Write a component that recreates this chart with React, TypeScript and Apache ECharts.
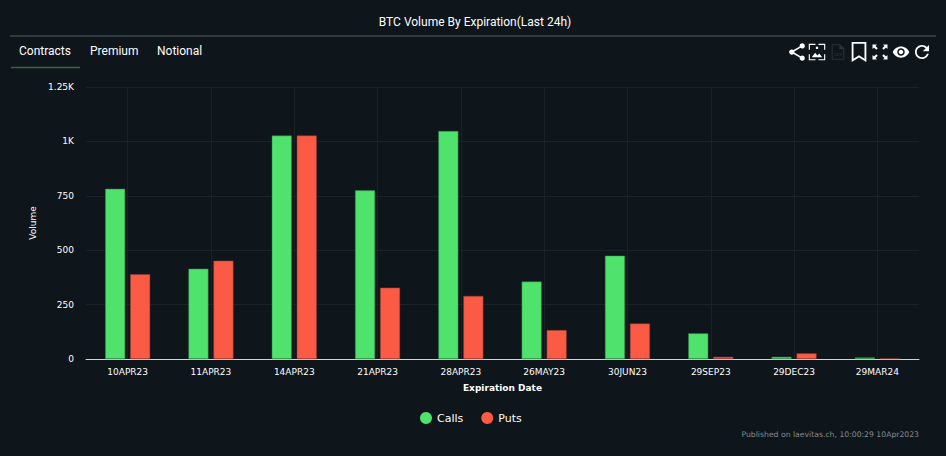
import React, { useEffect, useRef } from "react";
import * as echarts from "echarts";

const categories = ["10APR23", "11APR23", "14APR23", "21APR23", "28APR23", "26MAY23", "30JUN23", "29SEP23", "29DEC23", "29MAR24"];
const calls = [782, 415, 1027, 775, 1048, 356, 475, 118, 10, 7];
const puts = [390, 452, 1027, 328, 290, 133, 163, 10, 26, 3];
const tabs = ["Contracts", "Premium", "Notional"];

const ICONS: Record<string, string> = {
  shareIcon: "M18 16.08c-.76 0-1.44.3-1.96.77L8.91 12.7c.05-.23.09-.46.09-.7s-.04-.47-.09-.7l7.05-4.11c.54.5 1.25.81 2.04.81 1.66 0 3-1.34 3-3s-1.34-3-3-3-3 1.34-3 3c0 .24.04.47.09.7L8.04 9.81C7.5 9.31 6.79 9 6 9c-1.66 0-3 1.34-3 3s1.34 3 3 3c.79 0 1.5-.31 2.04-.81l7.12 4.16c-.05.21-.08.43-.08.65 0 1.61 1.31 2.92 2.92 2.92s2.92-1.31 2.92-2.92-1.31-2.92-2.92-2.92z",
  eyeIcon: "M12 4.5C7 4.5 2.73 7.61 1 12c1.73 4.39 6 7.5 11 7.5s9.27-3.11 11-7.5c-1.73-4.39-6-7.5-11-7.5zM12 17c-2.76 0-5-2.24-5-5s2.24-5 5-5 5 2.24 5 5-2.24 5-5 5zm0-8c-1.66 0-3 1.34-3 3s1.34 3 3 3 3-1.34 3-3-1.34-3-3-3z",
  refreshIcon: "M17.65 6.35C16.2 4.9 14.21 4 12 4c-4.42 0-7.99 3.58-7.99 8s3.57 8 7.99 8c3.73 0 6.84-2.55 7.73-6h-2.08c-.82 2.33-3.04 4-5.65 4-3.31 0-6-2.69-6-6s2.69-6 6-6c1.66 0 3.14.69 4.22 1.78L13 11h7V4l-2.35 2.35z",
  bookmarkIcon: "M4 1H20V23L12 18L4 23ZM6 3V19.4L12 15.6L18 19.4V3Z",
  fullIcon: "M2 2H8L6 4L9 7L7 9L4 6L2 8ZM22 2V8L20 6L17 9L15 7L18 4L16 2ZM2 22V16L4 18L7 15L9 17L6 20L8 22ZM22 22H16L18 20L15 17L17 15L20 18L22 16Z",
  imageIcon: "M1 1H10V2.5H2.5V9H1ZM14 1H23V9H21.5V2.5H14ZM1 15H2.5V21.5H10V23H1ZM21.5 15H23V23H14V21.5H21.5ZM5 19L9.5 13L12.5 16.5L15 14L19 19ZM10.5 5H13.5V8H10.5Z",
  fileIcon: "M3 1H15L21 7V23H3ZM4.5 2.5V21.5H19.5V8H14V2.5Z",
};
Object.keys(ICONS).forEach((k) => {
  echarts.graphic.registerShape(k, echarts.graphic.extendPath(ICONS[k] as any, {}) as any);
});

const icon = (type: string, cx: number, cy: number, size: number, fill = "#ffffff") => ({
  type,
  x: cx - size / 2,
  y: cy - size / 2,
  scaleX: size / 24,
  scaleY: size / 24,
  style: { fill },
  silent: true,
});

const FONT = "Roboto";
const AXIS_FONT = "DejaVu Sans";

export default function App() {
  const ref = useRef<HTMLDivElement>(null);
  useEffect(() => {
    document.body.style.margin = "0";
    document.body.style.background = "#0e151b";
    const chart = echarts.init(ref.current!, null, { renderer: "svg" });
    const tabX = [19, 90, 157];
    chart.setOption({
      animation: false,
      backgroundColor: "#0e151b",
      textStyle: { fontFamily: FONT },
      title: {
        text: "BTC Volume By Expiration(Last 24h)",
        left: 470,
        top: 11,
        textAlign: "center",
        textStyle: { color: "#ffffff", fontSize: 12, fontWeight: 400, fontFamily: FONT },
      },
      grid: { left: 86, right: 27, top: 87, bottom: 97 },
      legend: {
        data: ["Calls", "Puts"],
        top: 407,
        left: 415,
        icon: "circle",
        itemWidth: 12,
        itemHeight: 12,
        itemGap: 18,
        itemStyle: { borderWidth: 0 },
        textStyle: { color: "#ffffff", fontSize: 11, fontFamily: AXIS_FONT },
      },
      xAxis: {
        type: "category",
        data: categories,
        name: "Expiration Date",
        nameLocation: "middle",
        nameGap: 24,
        nameTextStyle: { color: "#ffffff", fontSize: 9, fontWeight: "bold", fontFamily: AXIS_FONT },
        axisLine: { lineStyle: { color: "#cfd3da", width: 1 } },
        axisTick: { show: false },
        axisLabel: { color: "#ffffff", fontSize: 9, margin: 8, fontFamily: AXIS_FONT },
        splitLine: { show: true, alignWithLabel: true, lineStyle: { color: "#1b2126", width: 1 } },
      },
      yAxis: {
        type: "value",
        min: 0,
        max: 1250,
        interval: 250,
        name: "Volume",
        nameLocation: "middle",
        nameGap: 49,
        nameTextStyle: { color: "#ffffff", fontSize: 9, fontFamily: AXIS_FONT },
        axisLine: { show: false },
        axisTick: { show: false },
        axisLabel: {
          color: "#ffffff",
          fontSize: 9,
          margin: 12,
          fontFamily: AXIS_FONT,
          formatter: (v: number) => (v >= 1000 ? `${v / 1000}K` : `${v}`),
        },
        splitLine: { show: true, lineStyle: { color: "#1b2126", width: 1 } },
      },
      series: [
        {
          name: "Calls",
          type: "bar",
          data: calls,
          barWidth: 20,
          barGap: "25%",
          itemStyle: { color: "#4fe36e", borderColor: "#2f7f45", borderWidth: 0.5 },
        },
        {
          name: "Puts",
          type: "bar",
          data: puts,
          barWidth: 20,
          itemStyle: { color: "#fb5a45", borderColor: "#8a3a30", borderWidth: 0.5 },
        },
      ],
      graphic: [
        { type: "line", shape: { x1: 10, y1: 36, x2: 936, y2: 36 }, style: { stroke: "#5a5e60", lineWidth: 1 }, silent: true },
        { type: "line", shape: { x1: 11, y1: 67.5, x2: 80, y2: 67.5 }, style: { stroke: "#37653c", lineWidth: 1.5 }, silent: true },
        ...tabs.map((t, i) => ({
          type: "text",
          x: tabX[i],
          y: 45,
          style: { text: t, fill: "#ffffff", fontSize: 12, fontFamily: FONT },
          silent: true,
        })),
        icon("shareIcon", 797, 52, 21),
        icon("imageIcon", 817, 52, 18),
        icon("fileIcon", 838, 52, 17, "#2c3338"),
        { type: "text", x: 838, y: 54, style: { text: "csv", fill: "#2c3338", fontSize: 5, fontFamily: FONT, align: "center", verticalAlign: "middle" }, silent: true },
        icon("bookmarkIcon", 859, 52, 22),
        icon("fullIcon", 880, 52, 18),
        icon("eyeIcon", 901, 52, 18),
        icon("refreshIcon", 922, 52, 21),
        {
          type: "text",
          x: 919,
          y: 434,
          style: { text: "Published on laevitas.ch, 10:00:29 10Apr2023", fill: "#868a8d", fontSize: 7.7, fontFamily: AXIS_FONT, align: "right", verticalAlign: "middle" },
          silent: true,
        },
      ],
    });
    return () => chart.dispose();
  }, []);
  return <div ref={ref} style={{ width: 946, height: 456 }} />;
}
